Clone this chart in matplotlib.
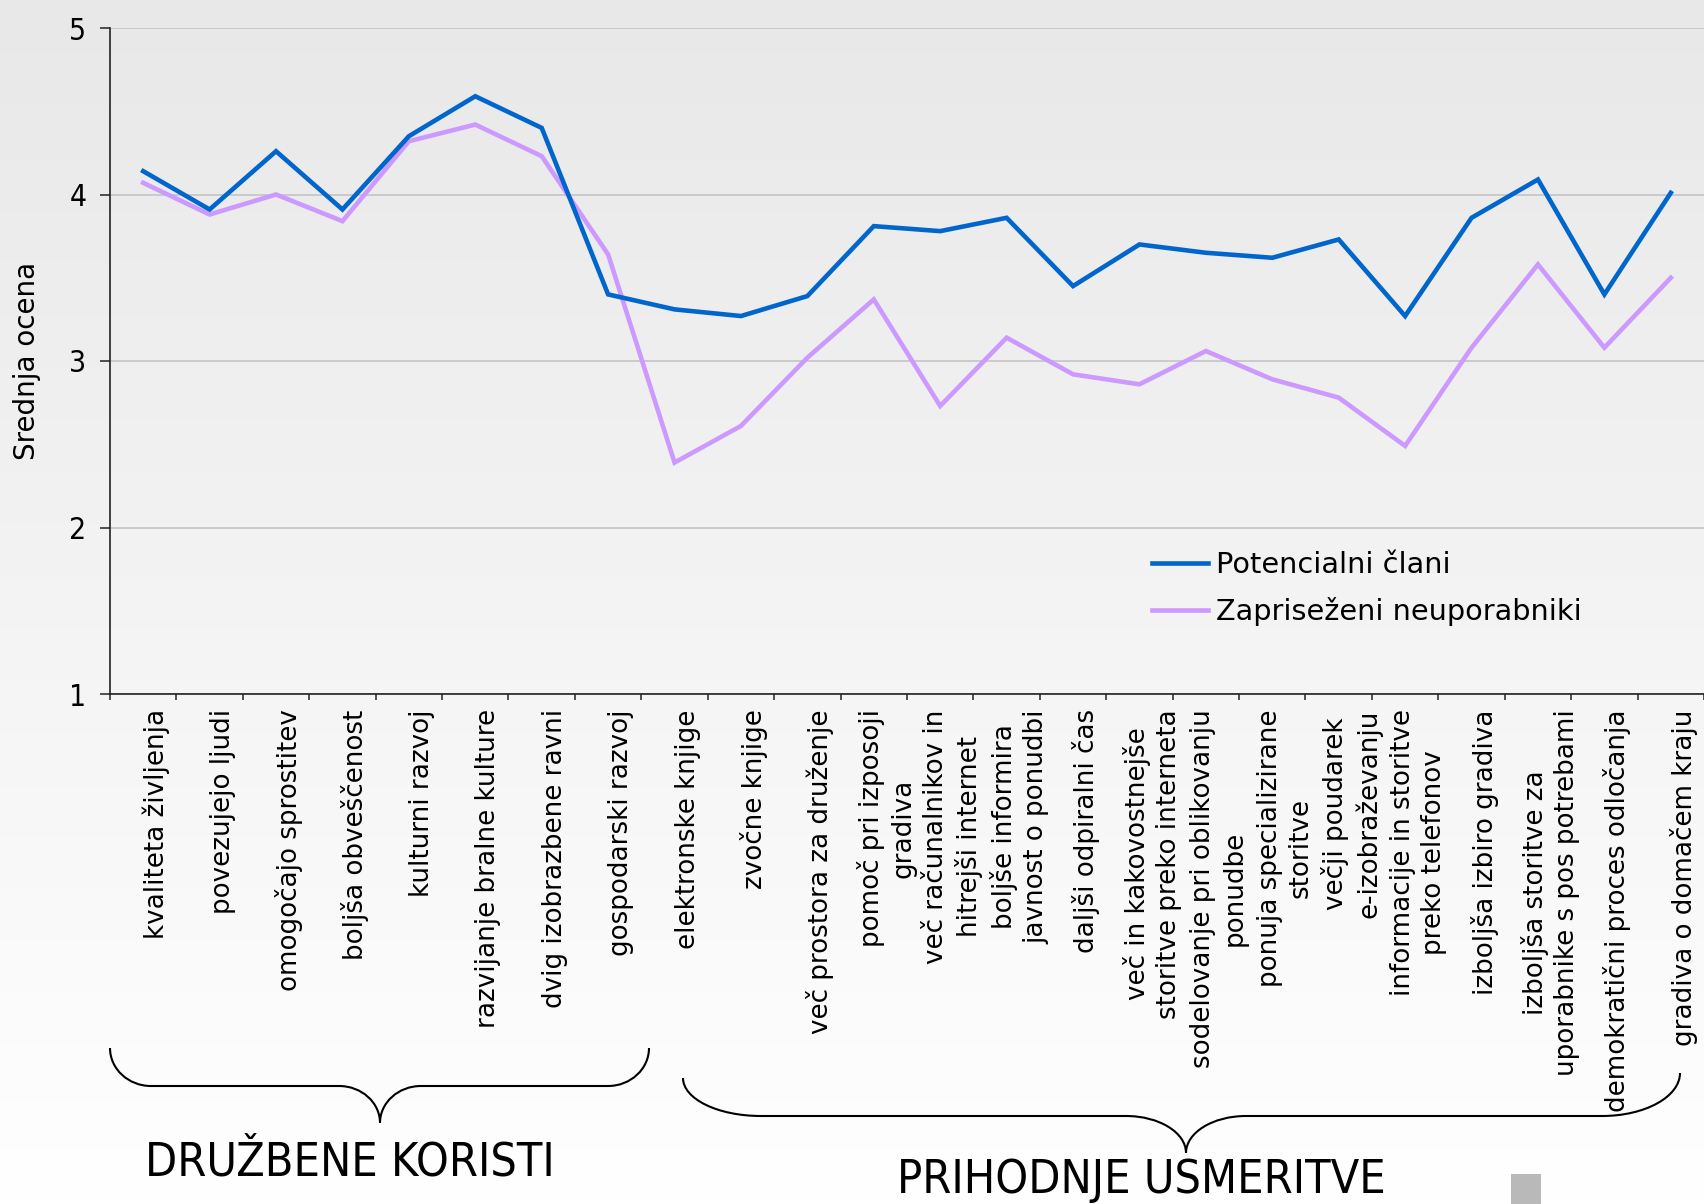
import numpy as np
import matplotlib
matplotlib.use("Agg")
import matplotlib.pyplot as plt
import matplotlib.transforms as mtransforms
from matplotlib.path import Path
from matplotlib.patches import PathPatch, Rectangle

# ---------------- data ----------------
categories = [
    "kvaliteta življenja",
    "povezujejo ljudi",
    "omogočajo sprostitev",
    "boljša obveščenost",
    "kulturni razvoj",
    "razvijanje bralne kulture",
    "dvig izobrazbene ravni",
    "gospodarski razvoj",
    "elektronske knjige",
    "zvočne knjige",
    "več prostora za druženje",
    "pomoč pri izposoji\ngradiva",
    "več računalnikov in\nhitrejši internet",
    "boljše informira\njavnost o ponudbi",
    "daljši odpiralni čas",
    "več in kakovostnejše\nstoritve preko interneta",
    "sodelovanje pri oblikovanju\nponudbe",
    "ponuja specializirane\nstoritve",
    "večji poudarek\ne-izobraževanju",
    "informacije in storitve\npreko telefonov",
    "izboljša izbiro gradiva",
    "izboljša storitve za\nuporabnike s pos potrebami",
    "demokratični proces odločanja",
    "gradiva o domačem kraju",
]
potencialni_clani = [4.14, 3.91, 4.26, 3.91, 4.35, 4.59, 4.40, 3.40, 3.31, 3.27, 3.39, 3.81,
                     3.78, 3.86, 3.45, 3.70, 3.65, 3.62, 3.73, 3.27, 3.86, 4.09, 3.40, 4.01]
zaprisezeni = [4.07, 3.88, 4.00, 3.84, 4.32, 4.42, 4.23, 3.64, 2.39, 2.61, 3.02, 3.37,
               2.73, 3.14, 2.92, 2.86, 3.06, 2.89, 2.78, 2.49, 3.08, 3.58, 3.08, 3.50]
series_names = ["Potencialni člani", "Zapriseženi neuporabniki"]
yticks = [1, 2, 3, 4, 5]
group_names = ["DRUŽBENE KORISTI", "PRIHODNJE USMERITVE"]

# ---------------- figure ----------------
W, H = 1704, 1204
fig = plt.figure(figsize=(W / 100, H / 100), dpi=100)

# background gradient
bg = fig.add_axes([0, 0, 1, 1], zorder=-10)
g = np.linspace(232, 255, 400) / 255.0
img = np.dstack([g, g, g]).reshape(400, 1, 3)
bg.imshow(img, aspect="auto", extent=[0, 1, 0, 1], origin="upper")
bg.set_axis_off()

px = mtransforms.Affine2D().scale(1 / W, -1 / H).translate(0, 1) + fig.transFigure

ax = fig.add_axes([110 / W, 1 - 694 / H, 1 - 110 / W, (694 - 28) / H])
ax.set_facecolor("none")

x = np.arange(len(categories))
blue = "#0066cc"
purple = "#cc99ff"
ax.plot(x, potencialni_clani, color=blue, lw=3.3, label=series_names[0], zorder=3,
        solid_joinstyle="miter")
ax.plot(x, zaprisezeni, color=purple, lw=3.3, label=series_names[1], zorder=2,
        solid_joinstyle="miter")

ax.set_xlim(-0.5, len(categories) - 0.5)
ax.set_ylim(1, 5)
ax.set_yticks(yticks)
ax.set_yticklabels([str(v) for v in yticks], fontsize=21.5,
                   family=["DejaVu Sans"], fontstretch="condensed")
ax.yaxis.grid(True, color="#c4c4c4", lw=1.2)
ax.set_axisbelow(True)

for s in ["top", "right"]:
    ax.spines[s].set_visible(False)
for s in ["left", "bottom"]:
    ax.spines[s].set_color("#222222")
    ax.spines[s].set_linewidth(1.2)

ax.tick_params(axis="y", length=7, width=1.1, color="#222222", pad=10)
ax.set_xticks(x)
ax.set_xticks(np.arange(-0.5, len(categories)), minor=True)
ax.tick_params(axis="x", which="major", length=0, pad=11)
ax.tick_params(axis="x", which="minor", length=4, width=1.1, color="#222222")
ax.set_xticklabels(categories, rotation=90, va="top", ha="center",
                   fontsize=18.8, family=["DejaVu Sans"], linespacing=1.25)
shift = mtransforms.ScaledTranslation(13 / 100, 0, fig.dpi_scale_trans)
for lab in ax.get_xticklabels():
    lab.set_multialignment("center")
    lab.set_transform(lab.get_transform() + shift)

fig.text(27 / W, 1 - 361 / H, "Srednja ocena", rotation=90, ha="center", va="center",
         fontsize=20, family=["DejaVu Sans"])

# legend
fig.legend(loc="upper left", bbox_to_anchor=(1152 / W, 1 - 551 / H),
           bbox_transform=fig.transFigure, frameon=False, borderpad=0,
           borderaxespad=0, handlelength=1.96, handletextpad=0.28,
           labelspacing=0.62, prop={"family": ["DejaVu Sans"], "size": 20.7})

# braces
def brace(x0, x1, ytop_l, ytop_r, yflat, xm, ytip, r_end, r_mid):
    k = 0.5523
    verts = [
        (x0, ytop_l),
        (x0, ytop_l + k * (yflat - ytop_l)), (x0 + r_end * (1 - k), yflat), (x0 + r_end, yflat),
        (xm - r_mid, yflat),
        (xm - r_mid * (1 - k), yflat), (xm, ytip - k * (ytip - yflat)), (xm, ytip),
        (xm, ytip - k * (ytip - yflat)), (xm + r_mid * (1 - k), yflat), (xm + r_mid, yflat),
        (x1 - r_end, yflat),
        (x1 - r_end * (1 - k), yflat), (x1, ytop_r + k * (yflat - ytop_r)), (x1, ytop_r),
    ]
    codes = [Path.MOVETO,
             Path.CURVE4, Path.CURVE4, Path.CURVE4,
             Path.LINETO,
             Path.CURVE4, Path.CURVE4, Path.CURVE4,
             Path.CURVE4, Path.CURVE4, Path.CURVE4,
             Path.LINETO,
             Path.CURVE4, Path.CURVE4, Path.CURVE4]
    fig.patches.append(PathPatch(Path(verts, codes), transform=px, facecolor="none",
                                 edgecolor="black", lw=1.5))

brace(110, 649, 1048, 1048, 1086, 380, 1123, 41, 41)
brace(683, 1680, 1078, 1073, 1116, 1186, 1153, 78, 60)

fig.text(350 / W, 1 - 1176 / H, group_names[0], ha="center", va="baseline",
         fontsize=33.5, family=["DejaVu Sans"], fontstretch="condensed")
fig.text(1141 / W, 1 - 1203 / H, group_names[1], ha="center", va="bottom",
         fontsize=33.5, family=["DejaVu Sans"], fontstretch="condensed")

fig.patches.append(Rectangle((1511, 1204), 30, -30, transform=px, facecolor="#b9b9b9",
                             edgecolor="none"))

fig.savefig("out.png", dpi=100)
